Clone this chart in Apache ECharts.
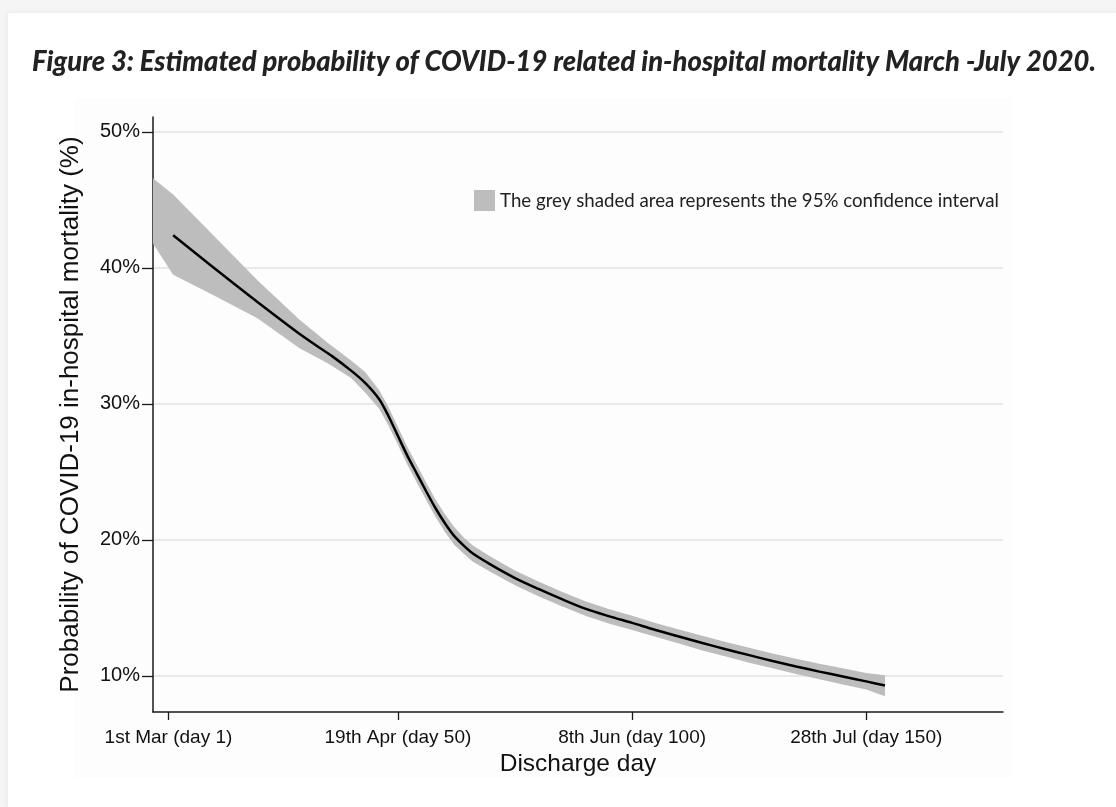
<!DOCTYPE html>
<html>
<head>
<meta charset="utf-8">
<script src="https://cdn.jsdelivr.net/npm/echarts@6/dist/echarts.min.js"></script>
<style>
html,body{margin:0;padding:0;width:1116px;height:807px;overflow:hidden;background:#f5f5f5;}
#card{position:absolute;left:8px;top:13px;right:0;bottom:0;background:#fff;box-shadow:0 0 6px rgba(0,0,0,0.07);}
#chart{position:absolute;left:0;top:0;width:1116px;height:807px;}
</style>
</head>
<body>
<div id="card"></div>
<div id="chart"></div>
<script>
// ---- Data ----
const titleText = 'Figure 3: Estimated probability of COVID-19 related in-hospital mortality March -July 2020.';
const legendText = 'The grey shaded area represents the 95% confidence interval';
const yAxisTitle = 'Probability of COVID-19 in-hospital mortality (%)';
const xAxisTitle = 'Discharge day';

const xTickValues = [1, 50, 100, 150];
const xTickLabels = ['1st Mar (day 1)', '19th Apr (day 50)', '8th Jun (day 100)', '28th Jul (day 150)'];
const yTickValues = [10, 20, 30, 40, 50];

// Estimated probability (%) by discharge day
const estDays = [2, 10, 20, 30, 36, 40, 43, 46, 48, 50, 52, 54, 56, 58, 60, 62, 64, 66, 70, 75, 80, 85, 90, 95, 100, 105, 110, 115, 120, 125, 130, 135, 140, 145, 150, 154];
const estValues = [42.4, 40.2, 37.5, 34.9, 33.5, 32.45, 31.55, 30.35, 29.1, 27.65, 26.2, 24.9, 23.6, 22.35, 21.25, 20.3, 19.6, 19.0, 18.15, 17.2, 16.4, 15.65, 14.95, 14.4, 13.9, 13.38, 12.9, 12.42, 11.97, 11.53, 11.1, 10.7, 10.32, 9.96, 9.6, 9.3];

// 95% confidence interval
const ciDays  = [-2.3, 2, 10, 20, 29, 35, 40, 43, 46, 48, 50, 52, 54, 56, 58, 60, 62, 64, 66, 70, 75, 80, 85, 90, 95, 100, 105, 110, 115, 120, 125, 130, 135, 140, 145, 150, 154];
const ciUpper = [46.6, 45.4, 42.6, 39.1, 36.2, 34.5, 33.2, 32.35, 31.0, 29.75, 28.3, 26.85, 25.55, 24.25, 23.0, 21.9, 20.95, 20.2, 19.6, 18.72, 17.75, 16.95, 16.2, 15.5, 14.93, 14.42, 13.9, 13.42, 12.95, 12.5, 12.07, 11.66, 11.27, 10.9, 10.56, 10.22, 10.05];
const ciLower = [41.8, 39.5, 38.1, 36.3, 34.1, 33.0, 31.9, 30.85, 29.65, 28.4, 27.0, 25.55, 24.25, 22.95, 21.7, 20.6, 19.65, 19.0, 18.4, 17.6, 16.67, 15.87, 15.12, 14.42, 13.86, 13.38, 12.88, 12.38, 11.88, 11.43, 10.98, 10.56, 10.15, 9.76, 9.38, 9.0, 8.5];

// ---- Chart ----
const titleFont = 'italic 900 28px Lato';
const mctx = document.createElement('canvas').getContext('2d');
mctx.font = titleFont;
const titleW = mctx.measureText(titleText).width;
const titleScale = 1064 / titleW;

const chart = echarts.init(document.getElementById('chart'), null, {renderer: 'canvas'});
const axisColor = '#1a1a1a';
const option = {
  animation: false,
  backgroundColor: 'transparent',
  graphic: [
    {type: 'rect', shape: {x: 75, y: 98, width: 937, height: 680}, style: {fill: '#fdfdfd'}, z: -10, silent: true},
    {type: 'text', x: 32, y: 62, scaleX: titleScale, z: 10,
     style: {text: titleText, fontFamily: 'Lato', fontStyle: 'italic', fontWeight: 900, fontSize: 28, fill: '#222', align: 'left', verticalAlign: 'middle'}}
  ],
  grid: {left: 153, right: 113, top: 117, bottom: 95, containLabel: false},
  legend: {
    data: [legendText], left: 474, top: 190, padding: 0, icon: 'rect', itemWidth: 21, itemHeight: 21, itemGap: 0,
    textStyle: {fontFamily: 'Lato', fontSize: 18.7, color: '#222'},
    selectedMode: false
  },
  xAxis: {
    type: 'value', min: -2.3, max: 179.2,
    name: xAxisTitle, nameLocation: 'middle', nameGap: 35,
    nameTextStyle: {fontFamily: 'Liberation Sans', fontSize: 24.5, color: '#111'},
    axisLine: {show: true, onZero: false, lineStyle: {color: axisColor, width: 1.5}},
    axisTick: {show: true, length: 8, customValues: xTickValues, lineStyle: {color: axisColor, width: 1.3}},
    axisLabel: {customValues: xTickValues, margin: 16, fontFamily: 'Liberation Sans', fontSize: 19, color: '#111',
      formatter: v => xTickLabels[xTickValues.indexOf(v)]},
    splitLine: {show: false}
  },
  yAxis: {
    type: 'value', min: 7.35, max: 51.1,
    name: yAxisTitle, nameLocation: 'middle', nameRotate: 90, nameGap: 69,
    nameTextStyle: {fontFamily: 'Liberation Sans', fontSize: 26, color: '#111'},
    axisLine: {show: true, onZero: false, lineStyle: {color: axisColor, width: 1.5}},
    axisTick: {show: true, length: 11, customValues: yTickValues, lineStyle: {color: axisColor, width: 1.3}},
    axisLabel: {customValues: yTickValues, margin: 13, fontFamily: 'Liberation Sans', fontSize: 20, color: '#111',
      formatter: v => v + '%'},
    splitLine: {show: true, lineStyle: {color: '#e9e9e9', width: 2}}
  },
  series: [
    {
      name: legendText, type: 'custom', z: 2, clip: true,
      itemStyle: {color: '#bdbdbd'},
      data: ciDays.map((d, i) => [d, ciUpper[i], ciLower[i]]),
      encode: {x: 0, y: [1, 2]},
      renderItem: function (params, api) {
        if (params.dataIndex !== 0) return null;
        const pts = [];
        for (let i = 0; i < ciDays.length; i++) pts.push(api.coord([ciDays[i], ciUpper[i]]));
        for (let i = ciDays.length - 1; i >= 0; i--) pts.push(api.coord([ciDays[i], ciLower[i]]));
        return {type: 'polygon', shape: {points: pts, smooth: 0}, style: {fill: '#bdbdbd'}};
      }
    },
    {
      name: 'Estimate', type: 'line', z: 3, smooth: 0.3, showSymbol: false, symbol: 'none',
      lineStyle: {color: '#000', width: 2.5},
      data: estDays.map((d, i) => [d, estValues[i]])
    }
  ]
};
chart.setOption(option);
</script>
</body>
</html>
